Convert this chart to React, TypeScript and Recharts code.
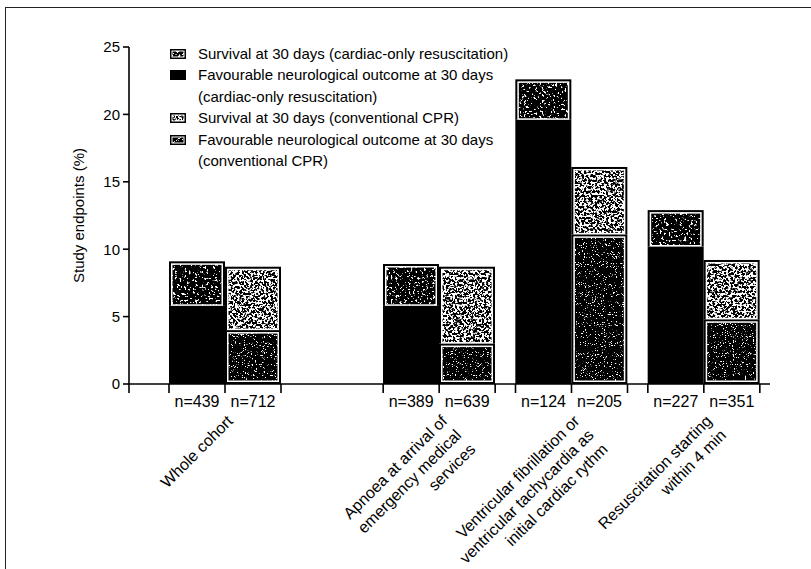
import { BarChart, Bar, XAxis, YAxis } from "recharts";

const GROUPS = [
  "Whole cohort",
  "Apnoea at arrival of emergency medical services",
  "Ventricular fibrillation or ventricular tachycardia as initial cardiac rythm",
  "Resuscitation starting within 4 min",
];
const GROUP_LINES = [
  ["Whole cohort"],
  ["Apnoea at arrival of", "emergency medical", "services"],
  ["Ventricular fibrillation or", "ventricular tachycardia as", "initial cardiac rythm"],
  ["Resuscitation starting", "within 4 min"],
];
const N_CARDIAC = [439, 389, 124, 227];
const N_CONV = [712, 639, 205, 351];
const SURVIVAL_CARDIAC = [9.1, 8.9, 22.6, 12.9];
const NEURO_CARDIAC = [5.8, 5.8, 19.6, 10.2];
const SURVIVAL_CONV = [8.7, 8.7, 16.1, 9.2];
const NEURO_CONV = [4.0, 3.0, 11.1, 4.8];
const Y_TICKS = [0, 5, 10, 15, 20, 25];

const LEGEND = [
  { tex: "cSurv", lines: ["Survival at 30 days (cardiac-only resuscitation)"] },
  { tex: "solid", lines: ["Favourable neurological outcome at 30 days", "(cardiac-only resuscitation)"] },
  { tex: "vSurv", lines: ["Survival at 30 days (conventional CPR)"] },
  { tex: "vNeuro", lines: ["Favourable neurological outcome at 30 days", "(conventional CPR)"] },
];

const rows = GROUPS.map((g, i) => ({
  group: g,
  cNeuro: NEURO_CARDIAC[i],
  cRest: +(SURVIVAL_CARDIAC[i] - NEURO_CARDIAC[i]).toFixed(2),
  vNeuro: NEURO_CONV[i],
  vRest: +(SURVIVAL_CONV[i] - NEURO_CONV[i]).toFixed(2),
}));

const FONT = "'Liberation Sans', Arial, sans-serif";
const W = 811;
const H = 569;
const BAR = 56;
const SPLIT = 321; // where the left chart (whole cohort) hands over to the right one

// speckle textures, like the scanned print
function Speckle({ id, freq, threshold, seed }: { id: string; freq: number; threshold: number; seed: number }) {
  const k = 14;
  return (
    <filter id={id} x="0" y="0" width="1" height="1" colorInterpolationFilters="sRGB">
      <feTurbulence type="fractalNoise" baseFrequency={freq} numOctaves={2} seed={seed} result="n" />
      <feColorMatrix
        in="n"
        type="matrix"
        values={`0 0 0 0 1  0 0 0 0 1  0 0 0 0 1  ${k} 0 0 0 ${-k * threshold}`}
        result="w"
      />
      <feMerge>
        <feMergeNode in="SourceGraphic" />
        <feMergeNode in="w" />
      </feMerge>
    </filter>
  );
}

function Textured(p: any) {
  const { x, y, width: w, height: h, tex, closed } = p;
  if (!h || h <= 0) return null;
  const b = 2, g = 1.5;
  const bb = closed ? b : 0;
  return (
    <g>
      <rect x={x} y={y} width={w} height={h} fill="#000" />
      <rect x={x + b} y={y + b} width={w - 2 * b} height={Math.max(0, h - b - bb)} fill="#fff" />
      <rect
        x={x + b + g}
        y={y + b + g}
        width={w - 2 * (b + g)}
        height={Math.max(0, h - b - bb - 2 * g)}
        fill="#000"
        filter={`url(#${tex})`}
      />
    </g>
  );
}

function Solid(p: any) {
  if (!p.height || p.height <= 0) return null;
  return <rect x={p.x} y={p.y} width={p.width} height={p.height} fill="#000" />;
}

function GroupTick(p: any) {
  const { x, y, payload, origin } = p;
  const i = GROUPS.indexOf(payload.value);
  const ax = x + 9;
  const ay = y + 38;
  return (
    <g>
      {[-BAR, 0, BAR].map((d) => (
        <line key={d} x1={x + d} x2={x + d} y1={y} y2={y + 9} stroke="#000" strokeWidth={1.6} />
      ))}
      {origin != null && <line x1={x - origin} x2={x - origin} y1={y} y2={y + 9} stroke="#000" strokeWidth={1.6} />}
      <text x={x - BAR / 2} y={y + 23} textAnchor="middle" fontSize={16} fill="#000">n={N_CARDIAC[i]}</text>
      <text x={x + BAR / 2} y={y + 23} textAnchor="middle" fontSize={16} fill="#000">n={N_CONV[i]}</text>
      <text transform={`rotate(-45 ${ax} ${ay})`} x={ax} y={ay} textAnchor="end" fontSize={16} fill="#000">
        {GROUP_LINES[i].map((l, k) => (
          <tspan key={k} x={ax} dy={k === 0 ? 0 : 20}>{l}</tspan>
        ))}
      </text>
    </g>
  );
}

function Bars() {
  return [
    <Bar key="cn" dataKey="cNeuro" stackId="c" barSize={BAR} isAnimationActive={false} shape={(p: any) => <Solid {...p} />} />,
    <Bar key="cr" dataKey="cRest" stackId="c" barSize={BAR} isAnimationActive={false} shape={(p: any) => <Textured {...p} tex="cSurv" />} />,
    <Bar key="vn" dataKey="vNeuro" stackId="v" barSize={BAR} isAnimationActive={false} shape={(p: any) => <Textured {...p} tex="vNeuro" closed />} />,
    <Bar key="vr" dataKey="vRest" stackId="v" barSize={BAR} isAnimationActive={false} shape={(p: any) => <Textured {...p} tex="vSurv" />} />,
  ];
}

function LegendIcon({ tex }: { tex: string }) {
  return (
    <svg width={16} height={10} style={{ position: "absolute", left: 0, top: 6 }}>
      {tex === "solid" ? (
        <rect x={0} y={0} width={16} height={10} fill="#000" />
      ) : (
        <g>
          <rect x={0} y={0} width={16} height={10} fill="#000" />
          <rect x={1.5} y={1.5} width={13} height={7} fill="#fff" />
          <rect x={2.5} y={2.5} width={11} height={5} fill="#000" filter={`url(#${tex})`} />
        </g>
      )}
    </svg>
  );
}

export default function App() {
  const chartStyle = { position: "absolute" as const, left: 0, top: 0 };
  const axisLine = { stroke: "#000", strokeWidth: 1.6 };
  return (
    <div style={{ position: "relative", width: W, height: H, fontFamily: FONT, background: "#fff", overflow: "hidden" }}>
      <style>{`body{margin:0}`}</style>
      <svg width={0} height={0} style={{ position: "absolute" }}>
        <defs>
          <Speckle id="cSurv" freq={0.45} threshold={0.6} seed={3} />
          <Speckle id="vSurv" freq={0.45} threshold={0.47} seed={7} />
          <Speckle id="vNeuro" freq={0.9} threshold={0.63} seed={11} />
        </defs>
      </svg>

      {/* frame of the printed figure */}
      <div style={{ position: "absolute", left: 5, top: 7, width: W, height: H, borderLeft: "1.5px solid #222", borderTop: "1.5px solid #222" }} />

      <div style={chartStyle}>
        <BarChart width={W} height={H} data={rows.slice(0, 1)} margin={{ top: 47, right: W - SPLIT, bottom: 35, left: 0 }} barGap={0}>
          <XAxis
            dataKey="group"
            height={150}
            interval={0}
            tickSize={0}
            tickMargin={0}
            axisLine={axisLine}
            tickLine={false}
            tick={(p: any) => <GroupTick {...p} origin={(SPLIT - 129) / 2} />}
          />
          <YAxis
            domain={[0, 25]}
            ticks={Y_TICKS}
            interval={0}
            width={129}
            tickSize={6}
            tickMargin={3}
            axisLine={axisLine}
            tickLine={axisLine}
            tick={{ fill: "#000", fontSize: 15 }}
            label={{
              content: (lp: any) => {
                const vb = lp.viewBox;
                const cx = 78;
                const cy = vb.y + vb.height / 2;
                return (
                  <text x={cx} y={cy} transform={`rotate(-90 ${cx} ${cy})`} textAnchor="middle" dominantBaseline="central" fontSize={15} fill="#000">
                    Study endpoints (%)
                  </text>
                );
              },
            }}
          />
          {Bars()}
        </BarChart>
      </div>

      <div style={chartStyle}>
        <BarChart width={W} height={H} data={rows.slice(1)} margin={{ top: 47, right: 41, bottom: 35, left: SPLIT }} barGap={0}>
          <XAxis
            dataKey="group"
            height={150}
            interval={0}
            tickSize={0}
            tickMargin={0}
            padding={{ left: 52, right: 0 }}
            axisLine={axisLine}
            tickLine={false}
            tick={(p: any) => <GroupTick {...p} />}
          />
          <YAxis hide domain={[0, 25]} ticks={Y_TICKS} />
          {Bars()}
        </BarChart>
      </div>

      <div style={{ position: "absolute", left: 170, top: 42.5, fontSize: 15, lineHeight: "21.6px", color: "#000", whiteSpace: "nowrap" }}>
        {LEGEND.map((it) => (
          <div key={it.tex} style={{ position: "relative", paddingLeft: 28 }}>
            <LegendIcon tex={it.tex} />
            {it.lines.map((l) => (
              <div key={l}>{l}</div>
            ))}
          </div>
        ))}
      </div>
    </div>
  );
}
